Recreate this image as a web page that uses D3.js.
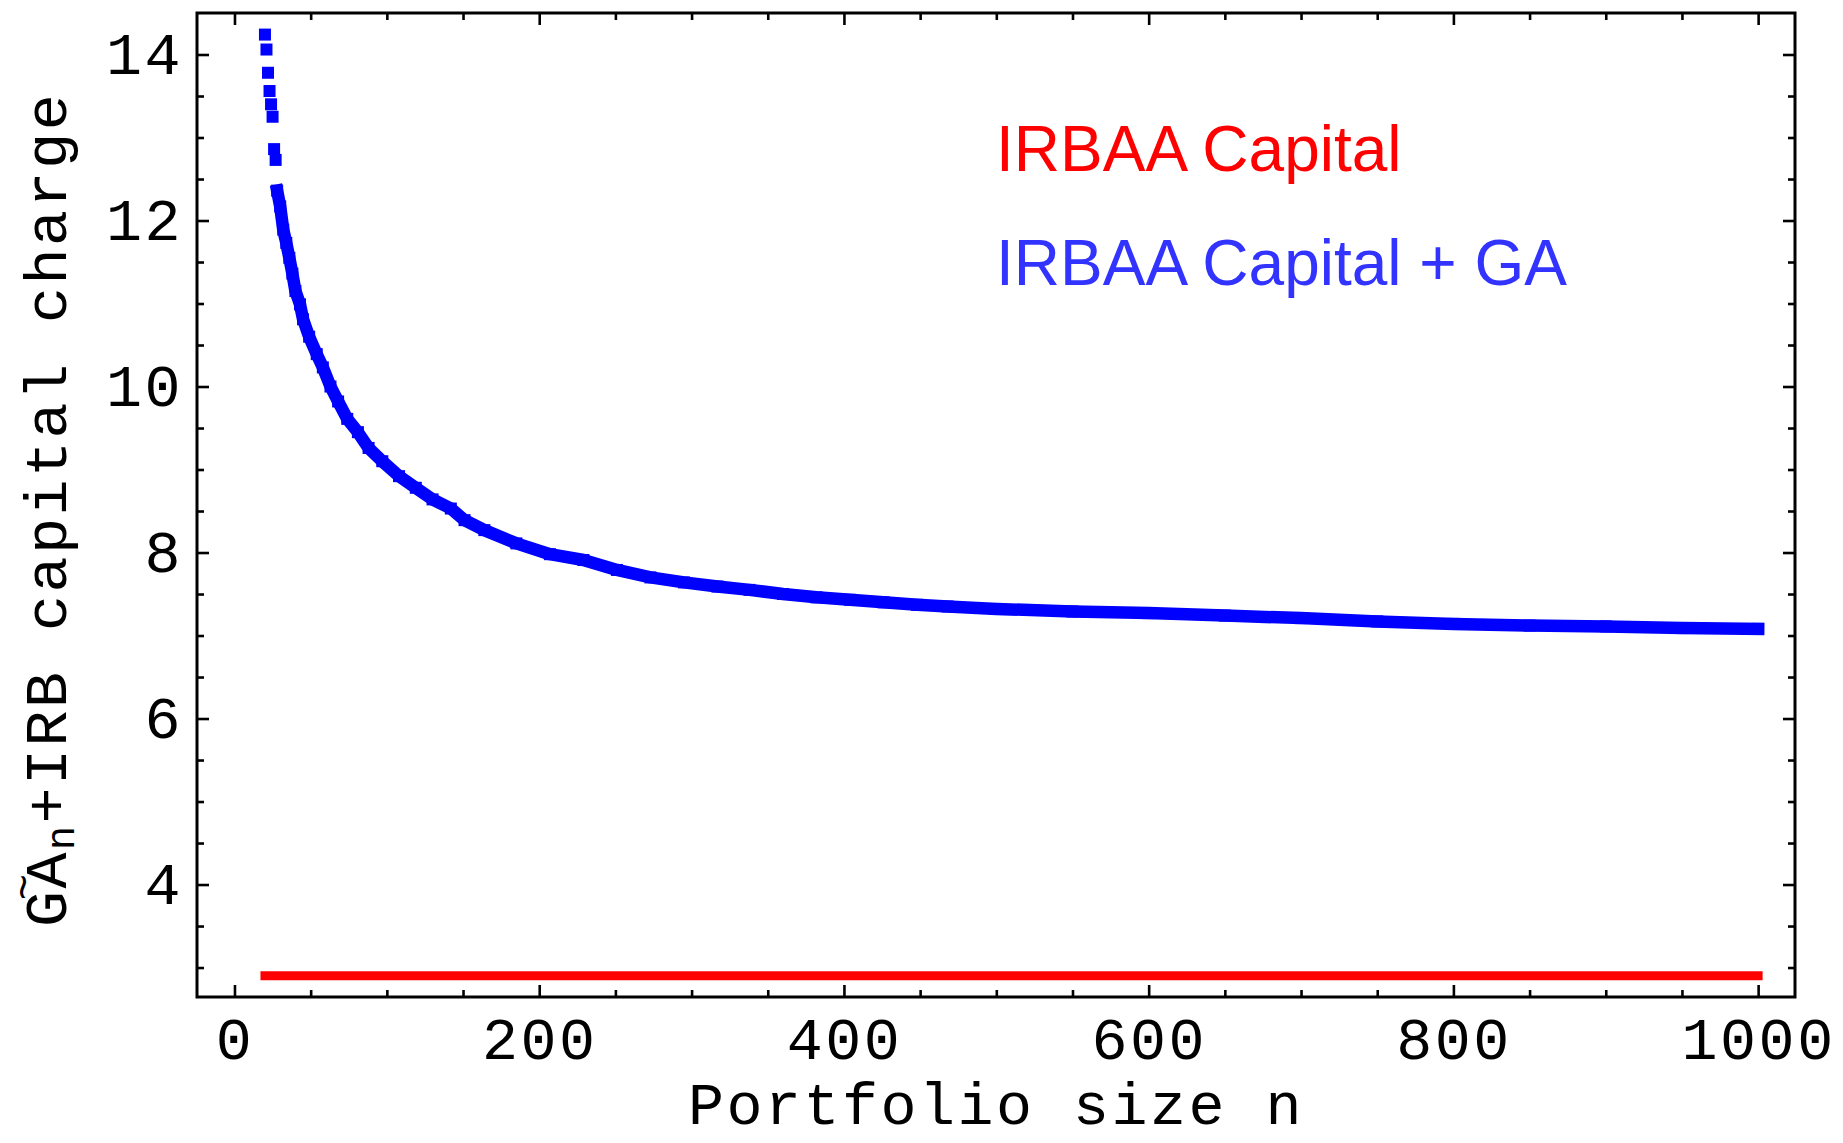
<!DOCTYPE html>
<html><head><meta charset="utf-8">
<script src="https://cdn.jsdelivr.net/npm/d3@7"></script>
<style>html,body{margin:0;padding:0;background:#fff;} svg{display:block;}</style>
</head><body>
<svg id="chart" width="1843" height="1143"></svg>
<script>
// ---- data ----
const xMajorTicks = [0, 200, 400, 600, 800, 1000];
const xMinorTicks = [50, 100, 150, 250, 300, 350, 450, 500, 550, 650, 700, 750, 850, 900, 950];
const yMajorTicks = [4, 6, 8, 10, 12, 14];
const yMinorTicks = [3, 3.5, 4.5, 5, 5.5, 6.5, 7, 7.5, 8.5, 9, 9.5, 10.5, 11, 11.5, 12.5, 13, 13.5];

const blueN = [20,21,22,23,24,25,26,27,28,30,32,34,36,38,40,43,45,49,54,58,63,68,74,81,88,97,108,119,130,142,151,164,185,207,229,251,273,295,317,338,360,382,404,426,448,468,500,550,600,650,700,750,800,850,900,950,1000];
const blueV = [14.24,14.06,13.78,13.56,13.40,13.25,12.86,12.73,12.36,12.17,11.89,11.73,11.55,11.36,11.15,10.99,10.81,10.60,10.39,10.23,10.00,9.82,9.61,9.45,9.26,9.10,8.92,8.78,8.64,8.53,8.39,8.27,8.11,7.98,7.91,7.79,7.70,7.64,7.59,7.55,7.50,7.46,7.43,7.40,7.37,7.35,7.32,7.29,7.27,7.24,7.21,7.17,7.14,7.12,7.11,7.09,7.08];

const redN = [20, 1000];
const redV = [2.9, 2.9];

const legendLabels = ["IRBAA Capital", "IRBAA Capital + GA"];
const xTitle = "Portfolio size n";
const yTitleParts = ["GA", "n", "+IRB capital charge"];

// ---- scales ----
const svg = d3.select("#chart");
const x = d3.scaleLinear().domain([-24.6, 1024.2]).range([197, 1795]);
const y = d3.scaleLinear().domain([2.645, 14.5]).range([997, 13]);
const monoFont = "'Liberation Mono', 'DejaVu Sans Mono', monospace";
const fmt = d3.format("d");

// ---- axes (ticks on all four sides, pointing inward) ----
function styleAxis(g) {
  g.select(".domain").remove();
  g.selectAll(".tick line").attr("stroke", "#000").attr("stroke-width", 2.6);
}
const gb = svg.append("g").attr("transform", `translate(0,${y.range()[0]})`)
  .call(d3.axisBottom(x).tickValues(xMajorTicks).tickFormat(fmt).tickSizeInner(-12).tickSizeOuter(0).tickPadding(0));
styleAxis(gb);
gb.selectAll(".tick text").attr("y", 62).attr("dy", 0)
  .attr("font-family", monoFont).attr("font-size", 60).attr("letter-spacing", 2.5).attr("fill", "#000");
styleAxis(svg.append("g").attr("transform", `translate(0,${y.range()[0]})`)
  .call(d3.axisBottom(x).tickValues(xMinorTicks).tickSizeInner(-7).tickSizeOuter(0).tickFormat("")));
styleAxis(svg.append("g").attr("transform", `translate(0,${y.range()[1]})`)
  .call(d3.axisTop(x).tickValues(xMajorTicks).tickSizeInner(-12).tickSizeOuter(0).tickFormat("")));
styleAxis(svg.append("g").attr("transform", `translate(0,${y.range()[1]})`)
  .call(d3.axisTop(x).tickValues(xMinorTicks).tickSizeInner(-7).tickSizeOuter(0).tickFormat("")));
const gl = svg.append("g").attr("transform", `translate(${x.range()[0]},0)`)
  .call(d3.axisLeft(y).tickValues(yMajorTicks).tickFormat(fmt).tickSizeInner(-12).tickSizeOuter(0).tickPadding(14));
styleAxis(gl);
gl.selectAll(".tick text").attr("dy", "0.32em")
  .attr("font-family", monoFont).attr("font-size", 60).attr("letter-spacing", 2.5).attr("fill", "#000");
styleAxis(svg.append("g").attr("transform", `translate(${x.range()[0]},0)`)
  .call(d3.axisLeft(y).tickValues(yMinorTicks).tickSizeInner(-7).tickSizeOuter(0).tickFormat("")));
styleAxis(svg.append("g").attr("transform", `translate(${x.range()[1]},0)`)
  .call(d3.axisRight(y).tickValues(yMajorTicks).tickSizeInner(-12).tickSizeOuter(0).tickFormat("")));
styleAxis(svg.append("g").attr("transform", `translate(${x.range()[1]},0)`)
  .call(d3.axisRight(y).tickValues(yMinorTicks).tickSizeInner(-7).tickSizeOuter(0).tickFormat("")));

// frame
svg.append("rect")
  .attr("x", x.range()[0]).attr("y", y.range()[1])
  .attr("width", x.range()[1] - x.range()[0]).attr("height", y.range()[0] - y.range()[1])
  .attr("fill", "none").attr("stroke", "#000").attr("stroke-width", 3);

// ---- red series ----
const redData = redN.map((n, i) => ({n, v: redV[i]}));
svg.append("path").datum(redData)
  .attr("d", d3.line().x(d => x(d.n)).y(d => y(d.v)))
  .attr("fill", "none").attr("stroke", "#ff0000").attr("stroke-width", 9)
  .attr("stroke-linecap", "square");

// ---- blue series ----
const blueData = blueN.map((n, i) => ({n, v: blueV[i]}));
svg.append("path").datum(blueData.filter(d => d.n >= 28))
  .attr("d", d3.line().x(d => x(d.n)).y(d => y(d.v)))
  .attr("fill", "none").attr("stroke", "#0000ff").attr("stroke-width", 12.5)
  .attr("stroke-linejoin", "round").attr("stroke-linecap", "square");
svg.append("g").selectAll("rect").data(blueData).join("rect")
  .attr("x", d => x(d.n) - 6).attr("y", d => y(d.v) - 6)
  .attr("width", 12).attr("height", 12).attr("fill", "#0000ff");

// ---- legend text ----
const legendColors = ["#ff0000", "#3333ff"];
const legendBaselines = [171, 285];
svg.append("g").selectAll("text").data(legendLabels).join("text")
  .attr("x", 996).attr("y", (d, i) => legendBaselines[i])
  .attr("font-family", "'Liberation Sans', Arial, sans-serif").attr("font-size", 64)
  .attr("fill", (d, i) => legendColors[i]).text(d => d);

// ---- axis titles ----
svg.append("text")
  .attr("x", (x.range()[0] + x.range()[1]) / 2).attr("y", 1124)
  .attr("text-anchor", "middle")
  .attr("font-family", monoFont).attr("font-size", 60).attr("letter-spacing", 2.5)
  .attr("fill", "#000").text(xTitle);

const yt = svg.append("g").attr("transform", "translate(66,927) rotate(-90)");
const ytext = yt.append("text")
  .attr("x", 0).attr("y", 0)
  .attr("font-family", monoFont).attr("font-size", 60).attr("letter-spacing", 2.5).attr("fill", "#000");
ytext.append("tspan").text(yTitleParts[0]);
ytext.append("tspan").attr("font-size", 40).attr("dy", 8).text(yTitleParts[1]);
ytext.append("tspan").attr("font-size", 60).attr("dy", -8).text(yTitleParts[2]);
yt.append("text")
  .attr("x", 40).attr("y", -28).attr("text-anchor", "middle")
  .attr("font-family", monoFont).attr("font-size", 44).attr("fill", "#000").text("~");
</script>
</body></html>
